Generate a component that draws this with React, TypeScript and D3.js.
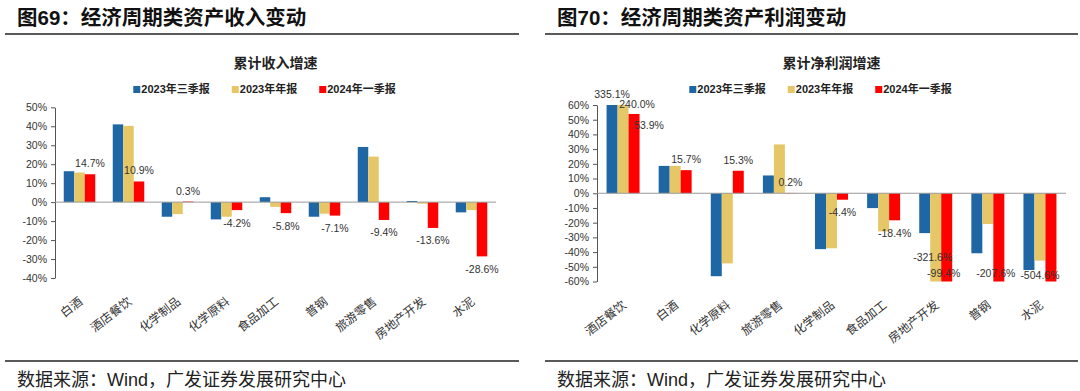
import { useEffect, useRef } from "react";
import * as d3 from "d3";

// ---- data ----
const seriesNames = ["2023年三季报", "2023年年报", "2024年一季报"];
const seriesColors = ["#1f67a4", "#e6c767", "#ff0000"];

const revCategories = ["白酒", "酒店餐饮", "化学制品", "化学原料", "食品加工", "普钢", "旅游零售", "房地产开发", "水泥"];
const rev2023Q3 = [16.3, 41.0, -7.7, -9.1, 2.6, -7.7, 29.1, 0.6, -5.4];
const rev2023A = [15.6, 40.2, -6.3, -7.7, -2.5, -6.1, 24.0, -0.8, -4.2];
const rev2024Q1 = [14.7, 10.9, 0.3, -4.2, -5.8, -7.1, -9.4, -13.6, -28.6];
const revTicks = [-40, -30, -20, -10, 0, 10, 20, 30, 40, 50];

const profitCategories = ["酒店餐饮", "白酒", "化学原料", "旅游零售", "化学制品", "食品加工", "房地产开发", "普钢", "水泥"];
const profit2023Q3 = [335.1, 18.6, -56.4, 12.1, -38.0, -10.1, -27.1, -40.8, -52.2];
const profit2023A = [240.0, 18.6, -47.7, 33.2, -37.4, -25.9, -321.6, -20.9, -45.8];
const profit2024Q1 = [53.9, 15.7, 15.3, 0.2, -4.4, -18.4, -99.4, -207.6, -504.6];
const profitTicks = [-60, -50, -40, -30, -20, -10, 0, 10, 20, 30, 40, 50, 60];

const CJK = "'Noto Sans CJK SC', sans-serif";
const NUM = "'Liberation Sans', Arial, 'Noto Sans CJK SC', sans-serif";

type Panel = {
  x0: number;
  lineEnd: number;
  title: string;
  subtitle: string;
  categories: string[];
  series: number[][];
  ticks: number[];
  xRange: [number, number];
  yRange: [number, number];
  pad: number;
  nudge: Record<string, [number, number]>;
};

function drawPanel(g: d3.Selection<SVGGElement, unknown, null, undefined>, p: Panel) {
  const dom = [d3.min(p.ticks)!, d3.max(p.ticks)!];
  const y = d3.scaleLinear(dom, p.yRange);
  const x = d3.scaleBand(p.categories, p.xRange).paddingInner(p.pad).paddingOuter(p.pad / 2);
  const x1 = d3.scaleBand(d3.range(p.series.length), [0, x.bandwidth()]);
  const clamp = (v: number) => Math.max(dom[0], Math.min(dom[1], v));
  const plotMid = (p.xRange[0] + p.xRange[1]) / 2;

  // header / footer
  g.append("text").attr("x", p.x0 + 17).attr("y", 25).attr("font-family", NUM).attr("font-weight", 700)
    .attr("font-size", 20.5).attr("fill", "#111").text(p.title);
  [34, 361].forEach((ly) =>
    g.append("line").attr("x1", p.x0 + 5).attr("x2", p.lineEnd).attr("y1", ly).attr("y2", ly)
      .attr("stroke", "#222").attr("stroke-width", 1.5)
  );
  g.append("text").attr("x", p.x0 + 17).attr("y", 386).attr("font-family", NUM).attr("font-size", 18)
    .attr("fill", "#222").text("数据来源：Wind，广发证券发展研究中心");

  g.append("text").attr("x", plotMid).attr("y", 68).attr("text-anchor", "middle").attr("font-family", CJK)
    .attr("font-weight", 700).attr("font-size", 14).attr("fill", "#222").text(p.subtitle);

  // legend
  const leg = g.append("g");
  let lx = 0;
  seriesNames.forEach((name, i) => {
    leg.append("rect").attr("x", lx).attr("y", -7).attr("width", 7).attr("height", 7).attr("fill", seriesColors[i]);
    const t = leg.append("text").attr("x", lx + 8).attr("y", 0).attr("font-family", NUM).attr("font-weight", 700)
      .attr("font-size", 11).attr("fill", "#222").text(name);
    lx += 8 + (t.node() as SVGTextElement).getComputedTextLength() + 22;
  });
  const legW = lx - 22;
  leg.attr("transform", `translate(${plotMid - 11 - legW / 2},93)`);

  // y axis
  const ax = g.append("g").attr("transform", `translate(${p.xRange[0]},0)`)
    .call(d3.axisLeft(y).tickValues(p.ticks).tickFormat((d) => `${d}%`).tickSize(4).tickSizeOuter(0).tickPadding(4));
  ax.select(".domain").attr("stroke", "#555");
  ax.selectAll(".tick line").attr("stroke", "#555");
  ax.selectAll(".tick text").attr("font-family", NUM).attr("font-size", 10.5).attr("fill", "#333");

  // bars
  p.series.forEach((vals, si) => {
    g.selectAll(null).data(vals).enter().append("rect")
      .attr("x", (_, i) => x(p.categories[i])! + x1(si)!)
      .attr("width", x1.bandwidth())
      .attr("y", (d) => Math.min(y(0), y(clamp(d))))
      .attr("height", (d) => Math.abs(y(clamp(d)) - y(0)))
      .attr("fill", seriesColors[si]);
  });

  // zero line
  g.append("line").attr("x1", p.xRange[0]).attr("x2", p.xRange[1]).attr("y1", y(0)).attr("y2", y(0))
    .attr("stroke", "#999").attr("stroke-width", 1);

  // data labels: last series always, others only when clipped
  p.series.forEach((vals, si) => {
    vals.forEach((v, i) => {
      const clipped = v !== clamp(v);
      if (si !== p.series.length - 1 && !clipped) return;
      const cx = x(p.categories[i])! + x1(si)! + x1.bandwidth() / 2;
      let lx2 = cx, ly: number;
      if (clipped && v < 0) { lx2 = cx - 3; ly = y(dom[0]) - 5; }
      else if (v >= 0) ly = y(clamp(v)) - 7;
      else ly = y(v) + 16.5;
      const n = p.nudge[`${i}|${si}`] || [0, 0];
      g.append("text").attr("x", lx2 + n[0]).attr("y", ly + n[1]).attr("text-anchor", "middle")
        .attr("font-family", NUM).attr("font-size", 10.5).attr("fill", "#333").text(`${v.toFixed(1)}%`);
    });
  });

  // category labels
  const bottom = y(dom[0]);
  p.categories.forEach((c) => {
    const cx = x(c)! + x.bandwidth() / 2;
    g.append("text").attr("transform", `translate(${cx + 4},${bottom + 25}) rotate(-38)`)
      .attr("text-anchor", "end").attr("font-family", CJK).attr("font-size", 12).attr("fill", "#333").text(c);
  });
}

export default function App() {
  const ref = useRef<SVGSVGElement>(null);
  useEffect(() => {
    document.body.style.margin = "0";
    if (!ref.current) return;
    const svg = d3.select(ref.current);
    svg.selectAll("*").remove();
    drawPanel(svg.append("g"), {
      x0: 0, lineEnd: 519,
      title: "图69：经济周期类资产收入变动", subtitle: "累计收入增速",
      categories: revCategories, series: [rev2023Q3, rev2023A, rev2024Q1], ticks: revTicks,
      xRange: [55, 496], yRange: [278, 107.3], pad: 0.357, nudge: {},
    });
    drawPanel(svg.append("g"), {
      x0: 540, lineEnd: 1078,
      title: "图70：经济周期类资产利润变动", subtitle: "累计净利润增速",
      categories: profitCategories, series: [profit2023Q3, profit2023A, profit2024Q1], ticks: profitTicks,
      xRange: [597, 1066], yRange: [281.5, 105], pad: 0.367,
      nudge: { "0|1": [14, 10], "0|2": [15, 22], "6|1": [0, -16], "8|2": [-8, 2] },
    });
  }, []);
  return <svg ref={ref} width={1080} height={391} style={{ display: "block", background: "#fff" }} />;
}
